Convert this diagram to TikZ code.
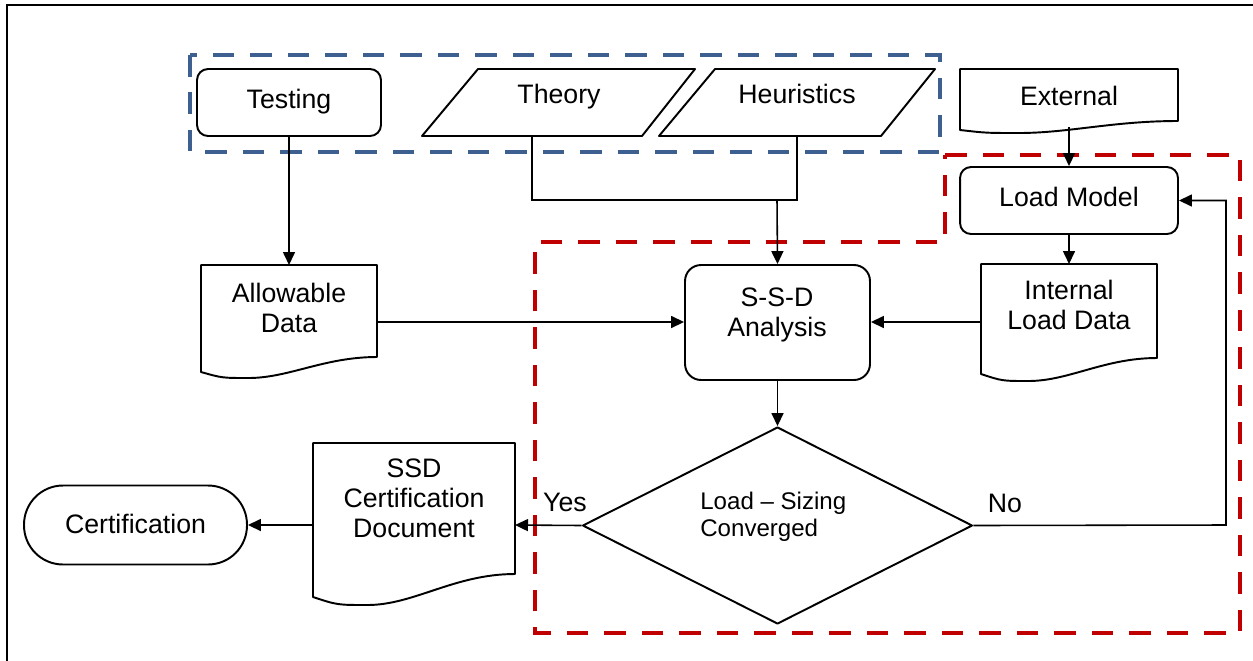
\documentclass[tikz,border=0pt]{standalone}
\usepackage{fontspec}
\setmainfont{Liberation Sans}
\usetikzlibrary{arrows.meta,shapes.geometric}
\definecolor{grpblue}{RGB}{62,96,145}
\definecolor{grpred}{RGB}{192,0,0}
\newcommand{\docshape}[6]{%
  \draw[shp] (#1,#2) -- (#3,#2) -- (#3,#4)
    .. controls ({#3-0.3*(#3-#1)},#4) and ({#1+0.5*(#3-#1)},#6) .. ({#1+0.27*(#3-#1)},#6)
    .. controls ({#1+0.12*(#3-#1)},#6) .. (#1,#5) -- cycle;}
\begin{document}
\begin{tikzpicture}[x=0.02cm,y=-0.02cm,
  shp/.style={draw=black,line width=1.1pt,line join=round},
  boxnode/.style={shp,inner sep=0pt,rounded corners=0.22cm},
  txt/.style={font=\fontsize{15.2}{17.1}\selectfont,align=center,inner sep=0pt},
  smalltxt/.style={font=\fontsize{13.7}{15.3}\selectfont,align=left,inner sep=0pt},
  conn/.style={line width=0.9pt,-{Triangle[length=0.26cm,width=0.24cm]}},
  plain/.style={line width=0.9pt},
  grpdash/.style={line width=2.3pt,dash pattern=on 0.43cm off 0.32cm}]
\path[use as bounding box] (0,0) rectangle (1253,660);
% outer frame (only top and left visible)
\draw[line width=1.1pt] (7,670) -- (7,5) -- (1263,5);

% group outlines
\draw[grpdash,draw=grpblue] (190,55) rectangle (940,152);
\draw[grpdash,draw=grpred] (945,155) -- (1240,155) -- (1240,633) -- (535,633) -- (535,242) -- (945,242) -- cycle;

% Testing
\node[boxnode,minimum width=3.68cm,minimum height=1.34cm] (testing) at (289,102.5) {};
\node[txt] (t-testing) at (289,101.5) {Testing};

% Theory (parallelogram)
\draw[shp] (478,69) -- (695,69) -- (642,136) -- (422,136) -- cycle;
\node[txt] (t-theory) at (559,96.5) {Theory};
\coordinate (theory-b) at (532,136);

% Heuristics (parallelogram)
\draw[shp] (715,69) -- (935,69) -- (881,136) -- (659,136) -- cycle;
\node[txt] (t-heur) at (797,94) {Heuristics};
\coordinate (heur-b) at (797,136);

% External (document)
\docshape{960}{69}{1178}{121}{130}{133}
\node[txt] (t-ext) at (1069,96) {External};
\coordinate (ext-b) at (1069,127);

% Load Model
\node[boxnode,minimum width=4.36cm,minimum height=1.34cm] (lm) at (1069,200.5) {};
\node[txt] (t-lm) at (1069,197) {Load Model};

% Internal Load Data (document)
\docshape{981}{264}{1157}{358}{374}{381}
\node[txt] (t-int) at (1069,305) {Internal\\Load Data};
\coordinate (int-t) at (1069,264);
\coordinate (int-l) at (981,322);

% Allowable Data (document)
\docshape{201}{265}{377}{357}{372}{378}
\node[txt] (t-allow) at (289,307.5) {Allowable\\Data};
\coordinate (allow-t) at (289,265);
\coordinate (allow-r) at (377,322);

% S-S-D Analysis
\node[boxnode,rounded corners=0.32cm,minimum width=3.7cm,minimum height=2.3cm] (ssd) at (777.5,322.5) {};
\node[txt] (t-ssd) at (777,314.5) {S-S-D\\Analysis};

% Decision
\node[shp,diamond,inner sep=0pt,minimum width=7.8cm,minimum height=3.94cm] (dec) at (777.5,525.5) {};
\node[smalltxt,anchor=west] (t-dec) at (700,517) {Load -- Sizing\\Converged};

% SSD Certification Document
\docshape{313}{443}{515}{574}{597}{605}
\node[txt] (t-ssddoc) at (414,498.5) {SSD\\Certification\\Document};
\coordinate (doc-r) at (515,525);
\coordinate (doc-l) at (313,525);

% Certification terminal
\node[shp,inner sep=0pt,rounded corners=0.78cm,minimum width=4.46cm,minimum height=1.58cm] (cert) at (135.5,525) {};
\node[txt] (t-cert) at (135.5,524) {Certification};

% connectors
\draw[conn] (testing.south) -- (allow-t);
\coordinate (join) at (777,200);
\draw[plain] (theory-b) |- (heur-b |- join) -- (heur-b);
\draw[conn] (join) -- (ssd.north);
\draw[conn] (ext-b) -- (lm.north);
\draw[conn] (lm.south) -- (int-t);
\draw[conn] (allow-r) -- (allow-r -| ssd.west);
\draw[conn] (int-l) -- (int-l -| ssd.east);
\draw[conn] (ssd.south) -- (dec.north);
\draw[conn] (dec.west) -- (doc-r);
\draw[conn] (doc-l) -- (cert.east);
\coordinate (loop) at (1226,525);
\draw[conn] (dec.east) -- (loop) |- (lm.east);

% branch labels
\node[txt] (yes) at (565,502) {Yes};
\node[txt] (no) at (1005,503) {No};
\end{tikzpicture}
\end{document}
